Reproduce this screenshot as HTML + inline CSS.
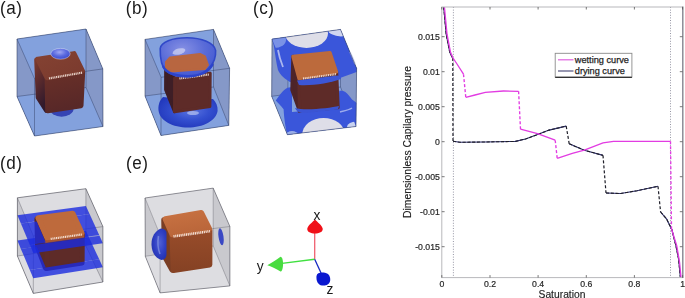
<!DOCTYPE html>
<html><head><meta charset="utf-8"><style>
html,body{margin:0;padding:0;background:#fff;}
body{width:685px;height:298px;overflow:hidden;position:relative;}
svg{position:absolute;left:0;top:0;filter:blur(0.35px);}
text{font-family:"Liberation Sans",sans-serif;}
.tk{font-size:8.7px;fill:#262626;stroke:#262626;stroke-width:0.2px;}
.lb{font-size:10px;fill:#222;stroke:#222;stroke-width:0.15px;}
.lg{font-size:9.2px;fill:#1e1e1e;stroke:#1e1e1e;stroke-width:0.25px;}
.pl{font-size:19px;fill:#1a1a1a;letter-spacing:0.6px;}
.ax{font-size:13.8px;fill:#1a1a1a;}
</style></head><body>
<svg width="685" height="298" viewBox="0 0 685 298">
<defs><radialGradient id="blA" cx="0.45" cy="0.35" r="0.7"><stop offset="0" stop-color="#a0a8f4"/><stop offset="0.5" stop-color="#5a6ae0"/><stop offset="1" stop-color="#3848cc"/></radialGradient>
<linearGradient id="frA" x1="0" y1="0" x2="0.2" y2="1"><stop offset="0" stop-color="#6a3028"/><stop offset="1" stop-color="#582828"/></linearGradient>
<linearGradient id="tpA" x1="0" y1="0" x2="1" y2="1"><stop offset="0" stop-color="#844232"/><stop offset="1" stop-color="#7a3a2e"/></linearGradient>
<linearGradient id="lfA" x1="0" y1="0" x2="0.3" y2="1"><stop offset="0" stop-color="#7a3a2e"/><stop offset="0.45" stop-color="#5a2a2c"/><stop offset="1" stop-color="#321a2c"/></linearGradient>
<radialGradient id="blB" cx="0.55" cy="0.45" r="0.6"><stop offset="0" stop-color="#5a74e0"/><stop offset="0.5" stop-color="#3450d0"/><stop offset="1" stop-color="#2238bc"/></radialGradient>
<radialGradient id="bwB" cx="0.4" cy="0.3" r="0.8"><stop offset="0" stop-color="#8690e4"/><stop offset="0.5" stop-color="#5a6cd8"/><stop offset="1" stop-color="#3c52d0"/></radialGradient>
<clipPath id="topC"><polygon points="272.0,39.1 340.5,29.4 356.6,68.3 288.0,77.5"/></clipPath>
<clipPath id="botC"><polygon points="271.7,96.3 340.5,87.0 356.0,126.5 287.4,134.7"/></clipPath>
<radialGradient id="blE" cx="0.55" cy="0.45" r="0.6"><stop offset="0" stop-color="#5060d4"/><stop offset="0.6" stop-color="#3040c4"/><stop offset="1" stop-color="#2232b0"/></radialGradient>
<linearGradient id="frE" x1="0" y1="0" x2="0" y2="1"><stop offset="0" stop-color="#984c2a"/><stop offset="1" stop-color="#864224"/></linearGradient>
<linearGradient id="tpE" x1="0" y1="0" x2="0.4" y2="1"><stop offset="0" stop-color="#c87242"/><stop offset="1" stop-color="#ba663a"/></linearGradient></defs>
<g><polygon points="17.0,39.0 86.0,29.0 102.8,68.9 103.0,126.5 34.5,136.0 17.0,96.5" fill="rgb(131,161,221)" /><polygon points="17.0,39.0 34.5,78.5 34.5,136.0 17.0,96.5" fill="rgb(133,152,200)" /><polygon points="17.0,39.0 86.0,29.0 102.8,68.9 34.5,78.5" fill="rgb(131,161,221)" /><polygon points="17.0,96.5 86.0,87.5 103.0,126.5 34.5,136.0" fill="rgb(131,161,221)" /><polygon points="86.0,29.0 102.8,68.9 103.0,126.5 86.0,87.5" fill="rgb(133,152,200)" /><line x1="34.5" y1="78.5" x2="102.8" y2="68.9" stroke="rgba(40,50,85,0.5)" stroke-width="0.80"/><line x1="17.0" y1="39.0" x2="34.5" y2="78.5" stroke="rgba(40,50,85,0.5)" stroke-width="0.80"/><line x1="34.5" y1="78.5" x2="34.5" y2="136.0" stroke="rgba(40,50,85,0.5)" stroke-width="0.80"/><line x1="17.0" y1="96.5" x2="86.0" y2="87.5" stroke="rgba(40,50,85,0.5)" stroke-width="0.80"/><line x1="86.0" y1="87.5" x2="103.0" y2="126.5" stroke="rgba(40,50,85,0.5)" stroke-width="0.80"/><line x1="86.0" y1="29.0" x2="86.0" y2="87.5" stroke="rgba(40,50,85,0.5)" stroke-width="0.80"/><ellipse cx="61.6" cy="108.5" rx="12" ry="8.3" fill="#3444b4"/><polygon points="36.7,60.1 45.4,79.8 46.5,110.5 38.2,97.3" fill="url(#lfA)" stroke="url(#lfA)" stroke-width="5.0" stroke-linejoin="round"/><polygon points="47.1,79.4 82.7,72.0 81.0,105.7 47.7,110.8" fill="url(#frA)" stroke="url(#frA)" stroke-width="5.0" stroke-linejoin="round"/><polygon points="37.8,59.1 74.0,53.6 82.3,70.7 47.0,77.7" fill="url(#tpA)" stroke="url(#tpA)" stroke-width="5.0" stroke-linejoin="round"/><line x1="49" y1="78.4" x2="82.5" y2="72.6" stroke="#f8ece4" stroke-width="2.2" stroke-dasharray="1.1,0.7" opacity="0.85"/><ellipse cx="60.5" cy="53.8" rx="9.7" ry="5.4" fill="url(#blA)" stroke="rgba(230,230,250,0.55)" stroke-width="0.8"/><line x1="17.0" y1="39.0" x2="86.0" y2="29.0" stroke="rgba(45,55,90,0.68)" stroke-width="0.80"/><line x1="86.0" y1="29.0" x2="102.8" y2="68.9" stroke="rgba(45,55,90,0.68)" stroke-width="0.80"/><line x1="102.8" y1="68.9" x2="103.0" y2="126.5" stroke="rgba(45,55,90,0.68)" stroke-width="0.80"/><line x1="103.0" y1="126.5" x2="34.5" y2="136.0" stroke="rgba(45,55,90,0.68)" stroke-width="0.80"/><line x1="34.5" y1="136.0" x2="17.0" y2="96.5" stroke="rgba(45,55,90,0.68)" stroke-width="0.80"/><line x1="17.0" y1="96.5" x2="17.0" y2="39.0" stroke="rgba(45,55,90,0.68)" stroke-width="0.80"/></g>
<g><polygon points="145.0,39.4 213.5,29.4 229.6,68.3 228.8,125.4 161.0,135.5 145.0,96.0" fill="rgb(131,161,221)" /><polygon points="145.0,39.4 161.1,77.3 161.0,135.5 145.0,96.0" fill="rgb(133,152,200)" /><polygon points="145.0,39.4 213.5,29.4 229.6,68.3 161.1,77.3" fill="rgb(131,161,221)" /><polygon points="145.0,96.0 213.5,87.0 228.8,125.4 161.0,135.5" fill="rgb(131,161,221)" /><polygon points="213.5,29.4 229.6,68.3 228.8,125.4 213.5,87.0" fill="rgb(133,152,200)" /><line x1="161.1" y1="77.3" x2="229.6" y2="68.3" stroke="rgba(40,50,85,0.5)" stroke-width="0.80"/><line x1="145.0" y1="39.4" x2="161.1" y2="77.3" stroke="rgba(40,50,85,0.5)" stroke-width="0.80"/><line x1="161.1" y1="77.3" x2="161.0" y2="135.5" stroke="rgba(40,50,85,0.5)" stroke-width="0.80"/><line x1="145.0" y1="96.0" x2="213.5" y2="87.0" stroke="rgba(40,50,85,0.5)" stroke-width="0.80"/><line x1="213.5" y1="87.0" x2="228.8" y2="125.4" stroke="rgba(40,50,85,0.5)" stroke-width="0.80"/><line x1="213.5" y1="29.4" x2="213.5" y2="87.0" stroke="rgba(40,50,85,0.5)" stroke-width="0.80"/><path d="M163,97 C159,101 158,106 158.6,111 C160,121 173,127.5 188,127.5 C203,127.5 216,121 217.6,111 C218,106 216,102 213,99 L190,100 Z" fill="url(#blB)"/><ellipse cx="193" cy="113" rx="6" ry="2" fill="#c8d2f4" opacity="0.6"/><polygon points="165.7,56.7 174.6,78.2 174.5,111.7 165.6,89.8" fill="#3e1e26" stroke="#3e1e26" stroke-width="3.0" stroke-linejoin="round"/><polygon points="174.6,78.2 210.2,73.3 209.9,106.6 174.5,111.7" fill="#5e2b28" stroke="#5e2b28" stroke-width="3.0" stroke-linejoin="round"/><line x1="179.4" y1="78.5" x2="208.8" y2="74.5" stroke="#f8ece4" stroke-width="2.2" stroke-dasharray="1.1,0.7" opacity="0.90"/><path d="M160.2,48.5 C160,60 162,67 166,71 C172,76 180,77 187,77 C196,77 204,73 209,68 C214,63 216,56 215.6,50.3 C214,43 202,37.8 187,37.8 C172,37.8 161,42 160.2,48.5 Z" fill="url(#bwB)" stroke="#3048c8" stroke-width="1.6"/><ellipse cx="179" cy="51.5" rx="6.5" ry="3" fill="#d8dcf4" opacity="0.65" transform="rotate(-15 179 51.5)"/><path d="M166,62 L170,57.5 L200,54 L205,56.5 L208,65 L205,69 L171,71.5 L166,68 Z" fill="#b86640" stroke="#b86640" stroke-width="2" stroke-linejoin="round"/><path d="M163,66 C166,73 176,76 188,76 C200,76 209,72 213,64" fill="none" stroke="#2c44cc" stroke-width="2.2"/><line x1="145.0" y1="39.4" x2="213.5" y2="29.4" stroke="rgba(45,55,90,0.68)" stroke-width="0.80"/><line x1="213.5" y1="29.4" x2="229.6" y2="68.3" stroke="rgba(45,55,90,0.68)" stroke-width="0.80"/><line x1="229.6" y1="68.3" x2="228.8" y2="125.4" stroke="rgba(45,55,90,0.68)" stroke-width="0.80"/><line x1="228.8" y1="125.4" x2="161.0" y2="135.5" stroke="rgba(45,55,90,0.68)" stroke-width="0.80"/><line x1="161.0" y1="135.5" x2="145.0" y2="96.0" stroke="rgba(45,55,90,0.68)" stroke-width="0.80"/><line x1="145.0" y1="96.0" x2="145.0" y2="39.4" stroke="rgba(45,55,90,0.68)" stroke-width="0.80"/></g>
<g><polygon points="272.0,39.1 340.5,29.4 356.6,68.3 356.0,126.5 287.4,134.7 271.7,96.3" fill="rgb(131,161,221)" /><polygon points="272.0,39.1 288.0,77.5 287.4,134.7 271.7,96.3" fill="rgb(133,152,200)" /><polygon points="272.0,39.1 340.5,29.4 356.6,68.3 288.0,77.5" fill="rgb(131,161,221)" /><polygon points="271.7,96.3 340.5,87.0 356.0,126.5 287.4,134.7" fill="rgb(131,161,221)" /><polygon points="340.5,29.4 356.6,68.3 356.0,126.5 340.5,87.0" fill="rgb(133,152,200)" /><line x1="288.0" y1="77.5" x2="356.6" y2="68.3" stroke="rgba(40,50,85,0.5)" stroke-width="0.80"/><line x1="272.0" y1="39.1" x2="288.0" y2="77.5" stroke="rgba(40,50,85,0.5)" stroke-width="0.80"/><line x1="288.0" y1="77.5" x2="287.4" y2="134.7" stroke="rgba(40,50,85,0.5)" stroke-width="0.80"/><line x1="271.7" y1="96.3" x2="340.5" y2="87.0" stroke="rgba(40,50,85,0.5)" stroke-width="0.80"/><line x1="340.5" y1="87.0" x2="356.0" y2="126.5" stroke="rgba(40,50,85,0.5)" stroke-width="0.80"/><line x1="340.5" y1="29.4" x2="340.5" y2="87.0" stroke="rgba(40,50,85,0.5)" stroke-width="0.80"/><path d="M272,39.1 L340.5,29.4 L356.6,68.3 L356.6,72 L340,78 L300,84 L290,82 C285,79 280,75 278,70 C276,62 275,52 273.5,44 Z" fill="#3a56da"/><g clip-path="url(#topC)"><ellipse cx="306.5" cy="33.5" rx="21.5" ry="14.4" fill="#dedee8"/><ellipse cx="341" cy="29.4" rx="13" ry="7" fill="#d0d6f0"/><ellipse cx="274" cy="40" rx="12" ry="8" fill="#7a92e6"/></g><path d="M278,50 C279,56 281,62 283,67" stroke="#c8d0f4" stroke-width="1.8" fill="none" opacity="0.8"/><path d="M350,52 C352,56 354,60 355,64" stroke="#c8d0f4" stroke-width="1.6" fill="none" opacity="0.8"/><path d="M275.8,100.5 C279,96 283,90 287.5,87.8 L292,87 L292,112 L338,108 L339.2,90.7 C342,90.5 344,91 345,91.7 C348,94 350,97 352,99.5 C354,101 356,102 356.3,103 L356,126.5 L287.4,134.7 C285,126 284,116 283.6,109.2 C281,106 278,103 275.8,100.5 Z" fill="#3a56da"/><g clip-path="url(#botC)"><ellipse cx="323.6" cy="134.5" rx="21.4" ry="16.5" fill="#dedee8"/><ellipse cx="357" cy="127" rx="10" ry="5.5" fill="#c8d2f0"/><ellipse cx="292" cy="135" rx="6" ry="4" fill="#9aaee8"/></g><path d="M340,112 C344,111 349,110 352,108" stroke="#c8d0f4" stroke-width="1.5" fill="none" opacity="0.7"/><polygon points="293.0,56.5 299.0,78.5 299.5,111.0 292.0,90.0" fill="#4e2428" stroke="#4e2428" stroke-width="3.4" stroke-linejoin="round"/><polygon points="299.0,78.5 336.5,72.0 338.0,107.5 299.5,111.0" fill="#5e2b28" stroke="#5e2b28" stroke-width="3.4" stroke-linejoin="round"/><polygon points="293.0,56.5 330.0,52.8 336.5,72.0 299.0,78.5" fill="#bc6a3c" stroke="#bc6a3c" stroke-width="3.4" stroke-linejoin="round"/><line x1="303" y1="78.6" x2="336" y2="74.2" stroke="#f8ece4" stroke-width="2.2" stroke-dasharray="1.1,0.7" opacity="0.85"/><path d="M297,80.5 L337.5,75.5 L341,76.5 L341,79 C330,83 312,86 299,85 Z" fill="#3c56d6"/><path d="M295,108 C297,112 300,113.5 306,113 L338,109.5 L339,106 C330,108 305,111 295,108 Z" fill="#3a54d4"/><line x1="272.0" y1="39.1" x2="340.5" y2="29.4" stroke="rgba(45,55,90,0.68)" stroke-width="0.80"/><line x1="340.5" y1="29.4" x2="356.6" y2="68.3" stroke="rgba(45,55,90,0.68)" stroke-width="0.80"/><line x1="356.6" y1="68.3" x2="356.0" y2="126.5" stroke="rgba(45,55,90,0.68)" stroke-width="0.80"/><line x1="356.0" y1="126.5" x2="287.4" y2="134.7" stroke="rgba(45,55,90,0.68)" stroke-width="0.80"/><line x1="287.4" y1="134.7" x2="271.7" y2="96.3" stroke="rgba(45,55,90,0.68)" stroke-width="0.80"/><line x1="271.7" y1="96.3" x2="272.0" y2="39.1" stroke="rgba(45,55,90,0.68)" stroke-width="0.80"/></g>
<g><polygon points="17.4,197.8 85.9,188.7 102.9,226.6 102.9,282.0 33.3,293.4 17.4,256.0" fill="rgb(221,221,225)" /><polygon points="17.4,197.8 33.4,236.0 33.3,293.4 17.4,256.0" fill="rgb(201,201,206)" /><polygon points="17.4,197.8 85.9,188.7 102.9,226.6 33.4,236.0" fill="rgb(221,221,225)" /><polygon points="17.4,256.0 85.9,246.0 102.9,282.0 33.3,293.4" fill="rgb(221,221,225)" /><polygon points="85.9,188.7 102.9,226.6 102.9,282.0 85.9,246.0" fill="rgb(201,201,206)" /><line x1="33.4" y1="236.0" x2="102.9" y2="226.6" stroke="rgba(70,70,80,0.45)" stroke-width="0.80"/><line x1="17.4" y1="197.8" x2="33.4" y2="236.0" stroke="rgba(70,70,80,0.45)" stroke-width="0.80"/><line x1="33.4" y1="236.0" x2="33.3" y2="293.4" stroke="rgba(70,70,80,0.45)" stroke-width="0.80"/><line x1="17.4" y1="256.0" x2="85.9" y2="246.0" stroke="rgba(70,70,80,0.45)" stroke-width="0.80"/><line x1="85.9" y1="246.0" x2="102.9" y2="282.0" stroke="rgba(70,70,80,0.45)" stroke-width="0.80"/><line x1="85.9" y1="188.7" x2="85.9" y2="246.0" stroke="rgba(70,70,80,0.45)" stroke-width="0.80"/><polygon points="17.4,215.3 85.9,205.9 89.6,214.1 20.9,223.6" fill="rgba(26,42,222,0.8)" /><polygon points="73.8,216.3 89.6,214.1 99.2,235.0 83.2,237.3" fill="rgba(26,42,222,0.8)" /><polygon points="17.4,240.6 85.9,230.8 89.6,238.8 20.9,248.9" fill="rgba(26,42,222,0.8)" /><polygon points="73.8,241.1 89.6,238.8 99.2,259.3 83.2,261.7" fill="rgba(26,42,222,0.8)" /><polygon points="36.9,218.7 44.9,239.6 45.5,268.2 37.6,247.6" fill="#5a2a28" stroke="#5a2a28" stroke-width="5.0" stroke-linejoin="round"/><polygon points="46.9,239.3 82.3,234.2 82.1,263.0 46.7,268.6" fill="#5e2b28" stroke="#5e2b28" stroke-width="5.0" stroke-linejoin="round"/><polygon points="44.8,238.7 84.3,233.2 84.3,237.7 44.8,243.3" fill="#a85630" /><polygon points="38.2,217.9 72.7,213.4 81.7,232.8 46.9,237.5" fill="#be6a3c" stroke="#be6a3c" stroke-width="5.5" stroke-linejoin="round"/><line x1="50.7" y1="238.9" x2="81.8" y2="234.5" stroke="#f8ece4" stroke-width="2.2" stroke-dasharray="1.1,0.7" opacity="0.90"/><polygon points="30.2,245.6 99.5,235.8 102.9,243.2 33.4,253.2" fill="rgba(26,42,222,0.8)" /><polygon points="29.9,244.9 99.2,235.0 99.5,235.8 30.2,245.6" fill="rgba(26,42,222,0.35)" /><polygon points="29.8,269.9 99.2,259.3 102.9,267.3 33.3,278.2" fill="rgba(26,42,222,0.8)" /><polygon points="20.9,223.6 36.7,221.4 45.8,242.6 29.9,244.9" fill="rgba(26,42,222,0.8)" /><polygon points="20.9,248.9 36.7,246.6 45.8,267.5 29.8,269.9" fill="rgba(26,42,222,0.8)" /><line x1="17.4" y1="197.8" x2="85.9" y2="188.7" stroke="rgba(70,70,80,0.75)" stroke-width="0.80"/><line x1="85.9" y1="188.7" x2="102.9" y2="226.6" stroke="rgba(70,70,80,0.75)" stroke-width="0.80"/><line x1="102.9" y1="226.6" x2="102.9" y2="282.0" stroke="rgba(70,70,80,0.75)" stroke-width="0.80"/><line x1="102.9" y1="282.0" x2="33.3" y2="293.4" stroke="rgba(70,70,80,0.75)" stroke-width="0.80"/><line x1="33.3" y1="293.4" x2="17.4" y2="256.0" stroke="rgba(70,70,80,0.75)" stroke-width="0.80"/><line x1="17.4" y1="256.0" x2="17.4" y2="197.8" stroke="rgba(70,70,80,0.75)" stroke-width="0.80"/></g>
<g><polygon points="145.0,198.0 213.2,188.1 229.9,226.5 229.9,285.9 160.1,292.9 145.3,256.3" fill="rgb(221,221,225)" /><polygon points="145.0,198.0 160.1,235.0 160.1,292.9 145.3,256.3" fill="rgb(201,201,206)" /><polygon points="145.0,198.0 213.2,188.1 229.9,226.5 160.1,235.0" fill="rgb(221,221,225)" /><polygon points="145.3,256.3 213.2,246.0 229.9,285.9 160.1,292.9" fill="rgb(221,221,225)" /><polygon points="213.2,188.1 229.9,226.5 229.9,285.9 213.2,246.0" fill="rgb(201,201,206)" /><line x1="160.1" y1="235.0" x2="229.9" y2="226.5" stroke="rgba(70,70,80,0.4)" stroke-width="0.80"/><line x1="145.0" y1="198.0" x2="160.1" y2="235.0" stroke="rgba(70,70,80,0.4)" stroke-width="0.80"/><line x1="160.1" y1="235.0" x2="160.1" y2="292.9" stroke="rgba(70,70,80,0.4)" stroke-width="0.80"/><line x1="145.3" y1="256.3" x2="213.2" y2="246.0" stroke="rgba(70,70,80,0.4)" stroke-width="0.80"/><line x1="213.2" y1="246.0" x2="229.9" y2="285.9" stroke="rgba(70,70,80,0.4)" stroke-width="0.80"/><line x1="213.2" y1="188.1" x2="213.2" y2="246.0" stroke="rgba(70,70,80,0.4)" stroke-width="0.80"/><ellipse cx="221" cy="236.7" rx="2.5" ry="8.6" fill="#3a48c4" transform="rotate(-8 221 236.7)"/><polygon points="164.0,220.1 170.6,237.0 172.2,270.0 164.7,256.5" fill="#7a3e24" stroke="#7a3e24" stroke-width="5.5" stroke-linejoin="round"/><polygon points="172.3,236.4 209.7,230.2 209.6,264.8 173.5,270.3" fill="url(#frE)" stroke="url(#frE)" stroke-width="5.5" stroke-linejoin="round"/><polygon points="165.3,218.9 201.3,212.8 209.3,228.7 172.3,234.6" fill="url(#tpE)" stroke="url(#tpE)" stroke-width="5.5" stroke-linejoin="round"/><line x1="173.5" y1="236.4" x2="210" y2="231.2" stroke="#fbf0ea" stroke-width="2.6" stroke-dasharray="1.1,0.7" opacity="0.9"/><path d="M161,228.6 C154.5,231 151.2,238 151.5,245 C151.8,252 155,258 161.5,260 C164.5,259.8 166,258 166.5,255 L166.5,232 C165,229.5 163.5,228.6 161,228.6 Z" fill="url(#blE)"/><path d="M158.5,236 C157.5,242 158,249 160,254" fill="none" stroke="#8090e0" stroke-width="1.6" opacity="0.75"/><line x1="145.0" y1="198.0" x2="213.2" y2="188.1" stroke="rgba(70,70,80,0.7)" stroke-width="0.80"/><line x1="213.2" y1="188.1" x2="229.9" y2="226.5" stroke="rgba(70,70,80,0.7)" stroke-width="0.80"/><line x1="229.9" y1="226.5" x2="229.9" y2="285.9" stroke="rgba(70,70,80,0.7)" stroke-width="0.80"/><line x1="229.9" y1="285.9" x2="160.1" y2="292.9" stroke="rgba(70,70,80,0.7)" stroke-width="0.80"/><line x1="160.1" y1="292.9" x2="145.3" y2="256.3" stroke="rgba(70,70,80,0.7)" stroke-width="0.80"/><line x1="145.3" y1="256.3" x2="145.0" y2="198.0" stroke="rgba(70,70,80,0.7)" stroke-width="0.80"/></g>
<text transform="translate(0.0,13.9) scale(0.9,1)" class="pl">(a)</text>
<text transform="translate(125.7,13.9) scale(0.9,1)" class="pl">(b)</text>
<text transform="translate(253.0,13.9) scale(0.9,1)" class="pl">(c)</text>
<text transform="translate(0.1,168.6) scale(0.9,1)" class="pl">(d)</text>
<text transform="translate(126.0,168.6) scale(0.9,1)" class="pl">(e)</text>
<line x1="314.7" y1="259.2" x2="314.7" y2="233" stroke="#f06070" stroke-width="1.3"/>
<path d="M315,219.6 C317.5,222.5 321.8,225 322.7,228.6 C323.2,232.2 319,233.6 315,233.6 C311,233.6 306.8,232.2 307.3,228.6 C308.2,225 312.5,222.5 315,219.6 Z" fill="#f01018"/>
<line x1="314.7" y1="259.2" x2="280" y2="263.6" stroke="#40e040" stroke-width="1.4"/>
<path d="M280.5,256.8 C284,256.8 284,271.6 280.5,271.6 C276,268.5 271,266.3 267.3,265.2 C271,263.6 276,260 280.5,256.8 Z" fill="#48dc40"/>
<line x1="314.7" y1="259.2" x2="321.5" y2="274" stroke="#1428c0" stroke-width="1.3"/>
<path d="M316.5,276 C317,272.5 321,272.3 325,272.8 C329,273.5 330.5,277 330.2,280.5 C329.5,284.5 326,286 322,285.5 C318,285 316,281 316.5,276 Z" fill="#0a18d0"/>
<text x="313.6" y="219.8" class="ax">x</text>
<text x="256.8" y="270.6" class="ax">y</text>
<text x="326.4" y="293.6" class="ax">z</text>
<line x1="453.4" y1="7.0" x2="453.4" y2="277.6" stroke="#8a8a9a" stroke-width="0.9" stroke-dasharray="1,1.6"/>
<line x1="670.5" y1="7.0" x2="670.5" y2="277.6" stroke="#8a8a9a" stroke-width="0.9" stroke-dasharray="1,1.6"/>
<polyline points="443.7,7.0 446.2,34.2 449.8,52.3 452.6,58.0" fill="none" stroke="#303070" stroke-width="1.1"/>
<polyline points="443.7,7.0 446.2,34.2 449.8,52.3 452.6,58.0" fill="none" stroke="#1e1e28" stroke-width="1.1" stroke-dasharray="3.2,1.6"/>
<polyline points="453.0,141.2 460.0,142.3 485.0,142.0 515.4,141.4 525.5,139.0 537.5,134.6 549.1,130.1 566.2,126.1" fill="none" stroke="#303070" stroke-width="1.1"/>
<polyline points="453.0,141.2 460.0,142.3 485.0,142.0 515.4,141.4 525.5,139.0 537.5,134.6 549.1,130.1 566.2,126.1" fill="none" stroke="#1e1e28" stroke-width="1.1" stroke-dasharray="3.2,1.6"/>
<polyline points="569.2,143.8 584.3,150.2 603.0,155.4" fill="none" stroke="#303070" stroke-width="1.1"/>
<polyline points="569.2,143.8 584.3,150.2 603.0,155.4" fill="none" stroke="#1e1e28" stroke-width="1.1" stroke-dasharray="3.2,1.6"/>
<polyline points="606.0,193.0 620.6,193.5 637.0,190.7 658.0,186.3" fill="none" stroke="#303070" stroke-width="1.1"/>
<polyline points="606.0,193.0 620.6,193.5 637.0,190.7 658.0,186.3" fill="none" stroke="#1e1e28" stroke-width="1.1" stroke-dasharray="3.2,1.6"/>
<polyline points="660.6,212.0 666.5,218.8 671.8,229.5 675.9,245.6 678.6,259.0 680.4,277.6" fill="none" stroke="#303070" stroke-width="1.1"/>
<polyline points="660.6,212.0 666.5,218.8 671.8,229.5 675.9,245.6 678.6,259.0 680.4,277.6" fill="none" stroke="#1e1e28" stroke-width="1.1" stroke-dasharray="3.2,1.6"/>
<polyline points="452.8,58.0 453.0,141.2" fill="none" stroke="#1e1e28" stroke-width="1.2" stroke-dasharray="3,2"/>
<polyline points="566.2,126.1 569.2,143.8" fill="none" stroke="#1e1e28" stroke-width="1.2" stroke-dasharray="3,2"/>
<polyline points="603.0,155.4 606.0,193.0" fill="none" stroke="#1e1e28" stroke-width="1.2" stroke-dasharray="3,2"/>
<polyline points="658.0,186.3 660.6,212.0" fill="none" stroke="#1e1e28" stroke-width="1.2" stroke-dasharray="3,2"/>
<polyline points="444.4,7.0 447.0,34.2 450.5,52.3 453.0,58.0 457.0,64.0 463.5,74.2" fill="none" stroke="#e23ce2" stroke-width="1.35"/>
<polyline points="465.8,97.4 475.0,95.0 485.3,92.3 503.4,91.0 518.6,91.3" fill="none" stroke="#e23ce2" stroke-width="1.35"/>
<polyline points="520.5,129.2 537.5,133.6 555.2,140.2" fill="none" stroke="#e23ce2" stroke-width="1.35"/>
<polyline points="557.2,158.3 572.3,153.3 584.3,150.2 603.0,142.9 613.5,141.3 670.3,141.3" fill="none" stroke="#e23ce2" stroke-width="1.35"/>
<polyline points="671.5,229.0 676.7,245.6 679.5,262.0 681.0,277.6" fill="none" stroke="#e23ce2" stroke-width="1.35"/>
<polyline points="463.5,74.2 465.8,97.4" fill="none" stroke="#e23ce2" stroke-width="1.35" stroke-dasharray="3,2"/>
<polyline points="518.6,91.3 520.5,129.2" fill="none" stroke="#e23ce2" stroke-width="1.35" stroke-dasharray="3,2"/>
<polyline points="555.2,140.2 557.2,158.3" fill="none" stroke="#e23ce2" stroke-width="1.35" stroke-dasharray="3,2"/>
<polyline points="670.5,141.3 671.5,229.0" fill="none" stroke="#e23ce2" stroke-width="1.35" stroke-dasharray="3,2"/>
<rect x="441.8" y="7.0" width="240.8" height="270.6" fill="none" stroke="#b8b8bc" stroke-width="1"/>
<line x1="682.8" y1="6.5" x2="682.8" y2="278.1" stroke="#8c8c96" stroke-width="1.4"/>
<line x1="441.8" y1="277.6" x2="441.8" y2="275.1" stroke="#555" stroke-width="0.8"/>
<line x1="441.8" y1="7.0" x2="441.8" y2="9.5" stroke="#555" stroke-width="0.8"/>
<text x="441.8" y="286.6" text-anchor="middle" class="tk">0</text>
<line x1="490.0" y1="277.6" x2="490.0" y2="275.1" stroke="#555" stroke-width="0.8"/>
<line x1="490.0" y1="7.0" x2="490.0" y2="9.5" stroke="#555" stroke-width="0.8"/>
<text x="490.0" y="286.6" text-anchor="middle" class="tk">0.2</text>
<line x1="538.1" y1="277.6" x2="538.1" y2="275.1" stroke="#555" stroke-width="0.8"/>
<line x1="538.1" y1="7.0" x2="538.1" y2="9.5" stroke="#555" stroke-width="0.8"/>
<text x="538.1" y="286.6" text-anchor="middle" class="tk">0.4</text>
<line x1="586.3" y1="277.6" x2="586.3" y2="275.1" stroke="#555" stroke-width="0.8"/>
<line x1="586.3" y1="7.0" x2="586.3" y2="9.5" stroke="#555" stroke-width="0.8"/>
<text x="586.3" y="286.6" text-anchor="middle" class="tk">0.6</text>
<line x1="634.4" y1="277.6" x2="634.4" y2="275.1" stroke="#555" stroke-width="0.8"/>
<line x1="634.4" y1="7.0" x2="634.4" y2="9.5" stroke="#555" stroke-width="0.8"/>
<text x="634.4" y="286.6" text-anchor="middle" class="tk">0.8</text>
<line x1="682.6" y1="277.6" x2="682.6" y2="275.1" stroke="#555" stroke-width="0.8"/>
<line x1="682.6" y1="7.0" x2="682.6" y2="9.5" stroke="#555" stroke-width="0.8"/>
<text x="682.6" y="286.6" text-anchor="middle" class="tk">1</text>
<line x1="441.8" y1="36.7" x2="444.6" y2="36.7" stroke="#555" stroke-width="0.8"/>
<line x1="682.6" y1="36.7" x2="679.8" y2="36.7" stroke="#555" stroke-width="0.8"/>
<text x="439.8" y="39.9" text-anchor="end" class="tk">0.015</text>
<line x1="441.8" y1="71.7" x2="444.6" y2="71.7" stroke="#555" stroke-width="0.8"/>
<line x1="682.6" y1="71.7" x2="679.8" y2="71.7" stroke="#555" stroke-width="0.8"/>
<text x="439.8" y="74.9" text-anchor="end" class="tk">0.01</text>
<line x1="441.8" y1="106.7" x2="444.6" y2="106.7" stroke="#555" stroke-width="0.8"/>
<line x1="682.6" y1="106.7" x2="679.8" y2="106.7" stroke="#555" stroke-width="0.8"/>
<text x="439.8" y="109.9" text-anchor="end" class="tk">0.005</text>
<line x1="441.8" y1="141.7" x2="444.6" y2="141.7" stroke="#555" stroke-width="0.8"/>
<line x1="682.6" y1="141.7" x2="679.8" y2="141.7" stroke="#555" stroke-width="0.8"/>
<text x="439.8" y="144.9" text-anchor="end" class="tk">0</text>
<line x1="441.8" y1="176.7" x2="444.6" y2="176.7" stroke="#555" stroke-width="0.8"/>
<line x1="682.6" y1="176.7" x2="679.8" y2="176.7" stroke="#555" stroke-width="0.8"/>
<text x="439.8" y="179.9" text-anchor="end" class="tk">-0.005</text>
<line x1="441.8" y1="211.7" x2="444.6" y2="211.7" stroke="#555" stroke-width="0.8"/>
<line x1="682.6" y1="211.7" x2="679.8" y2="211.7" stroke="#555" stroke-width="0.8"/>
<text x="439.8" y="214.9" text-anchor="end" class="tk">-0.01</text>
<line x1="441.8" y1="246.7" x2="444.6" y2="246.7" stroke="#555" stroke-width="0.8"/>
<line x1="682.6" y1="246.7" x2="679.8" y2="246.7" stroke="#555" stroke-width="0.8"/>
<text x="439.8" y="249.9" text-anchor="end" class="tk">-0.015</text>
<text x="562" y="298.1" text-anchor="middle" class="lb" style="font-size:10.3px">Saturation</text>
<text transform="translate(411.0,142.0) rotate(-90)" text-anchor="middle" class="lb" style="font-size:10.4px">Dimensionless Capilary pressure</text>
<rect x="555.2" y="53.3" width="76.7" height="23.8" fill="#fff" stroke="#8a8a8a" stroke-width="0.9"/>
<line x1="558" y1="59.8" x2="573.5" y2="59.8" stroke="#e060e0" stroke-width="1.2"/>
<line x1="558" y1="71" x2="573.5" y2="71" stroke="#6a6a90" stroke-width="1.4"/>
<line x1="555.2" y1="77.3" x2="631.9" y2="77.3" stroke="#333" stroke-width="1.2"/>
<text x="574.8" y="62.6" class="lg">wetting curve</text>
<text x="574.8" y="74.1" class="lg">drying curve</text>
</svg>
</body></html>
